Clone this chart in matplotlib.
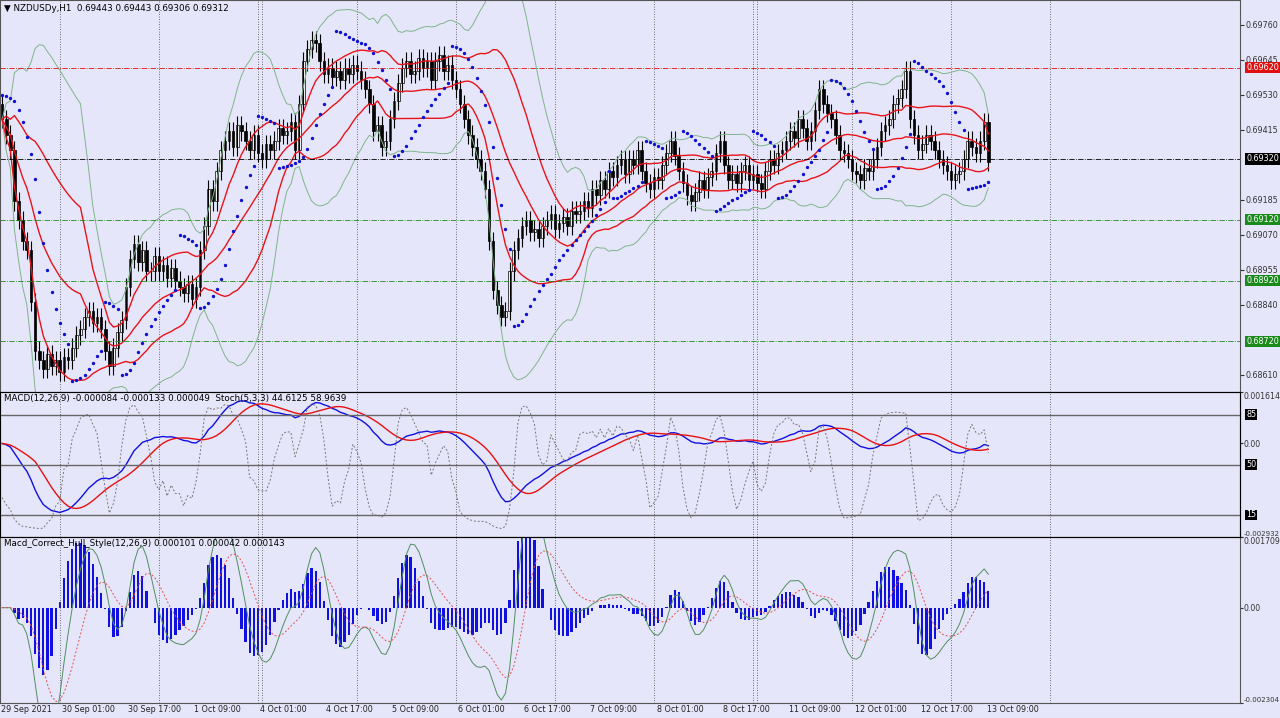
import numpy as np
import pandas as pd
import matplotlib
matplotlib.use("Agg")
import matplotlib.pyplot as plt

# closes in pips above 0.68000 (H1 candles)
closes_pips = [
    145, 140, 135, 118, 112, 105, 102, 85, 69, 66,
    63, 68, 64, 66, 62, 67, 66, 70, 74, 76,
    80, 82, 78, 80, 76, 69, 64, 70, 75, 79,
    90, 99, 104, 98, 102, 95, 95, 100, 95, 97,
    93, 96, 92, 90, 88, 91, 86, 90, 102, 110,
    122, 118, 128, 135, 138, 141, 136, 143, 141, 138,
    135, 140, 134, 132, 137, 135, 138, 142, 140, 141,
    144, 135, 150, 164, 168, 171, 170, 164, 160, 162,
    159, 161, 158, 162, 160, 163, 161, 158, 155, 150,
    141, 143, 136, 138, 145, 151, 157, 162, 164, 160,
    161, 165, 162, 164, 158, 164, 166, 161, 163, 158,
    155, 150, 145, 140, 136, 132, 128, 122, 105, 89,
    84, 80, 82, 95, 102, 106, 110, 112, 108, 109,
    106, 110, 112, 114, 109, 111, 113, 110, 115, 114,
    115, 118, 116, 122, 120, 125, 122, 128, 126, 130,
    132, 127, 132, 130, 135, 128, 124, 122, 126, 125,
    130, 134, 138, 133, 128, 124, 120, 118, 121, 125,
    122, 126, 128, 134, 138, 130, 125, 127, 124, 128,
    130, 125, 127, 124, 122, 128, 132, 130, 134, 135,
    138, 141, 139, 145, 142, 138, 141, 148, 155, 150,
    147, 145, 140, 135, 134, 132, 128, 127, 125, 129,
    128, 132, 136, 141, 143, 145, 150, 152, 155, 161,
    145, 140, 135, 137, 140, 138, 135, 132, 130, 128,
    125, 127, 128, 132, 138, 136, 134, 138, 144, 131,
]
first_open_pips = 150
wick_pips = 3

level_prices = [0.69620, 0.69320, 0.69120, 0.68920, 0.68720]
level_colors = ["#e01010", "black", "#1a8a1a", "#1a8a1a", "#1a8a1a"]
price_ticks = [0.69760, 0.69645, 0.69530, 0.69415, 0.69185, 0.69070, 0.68955, 0.68840, 0.68610]
time_labels = ["30 Sep 01:00", "30 Sep 17:00", "1 Oct 09:00", "4 Oct 01:00",
               "4 Oct 17:00", "5 Oct 09:00", "6 Oct 01:00", "6 Oct 17:00", "7 Oct 09:00",
               "8 Oct 01:00", "8 Oct 17:00", "11 Oct 09:00", "12 Oct 01:00", "12 Oct 17:00",
               "13 Oct 09:00"]
time_label_idx = [15, 31, 47, 63, 79, 95, 111, 127, 143, 159, 175, 191, 207, 223, 239]
day_sep_idx = [14, 38, 62, 63, 86, 110, 134, 158, 182, 183, 206, 230, 254]

close = np.array(closes_pips) * 1e-4 + 0.68
opens = np.concatenate([[first_open_pips * 1e-4 + 0.68], close[:-1]])
high = np.maximum(opens, close) + wick_pips * 1e-4
low = np.minimum(opens, close) - wick_pips * 1e-4
n = len(close)
idx = np.arange(n)
s = pd.Series(close)

# indicators
mid = s.rolling(20, min_periods=1).mean()
sd = s.rolling(20, min_periods=1).std().fillna(0)
red_up, red_lo = mid + 1.0 * sd, mid - 1.0 * sd
grn_up, grn_lo = mid + 2.2 * sd, mid - 2.2 * sd

def psar(h, l, step=0.02, mx=0.2):
    out = np.zeros(len(h))
    up = False
    af = step
    ep = l[0]
    sar = h[0]
    for i in range(len(h)):
        if up:
            if l[i] < sar:
                up, sar, ep, af = False, ep, l[i], step
            elif h[i] > ep:
                ep, af = h[i], min(af + step, mx)
        else:
            if h[i] > sar:
                up, sar, ep, af = True, ep, h[i], step
            elif l[i] < ep:
                ep, af = l[i], min(af + step, mx)
        out[i] = sar
        sar = sar + af * (ep - sar)
    return out

sar = psar(high, low)

ema = lambda x, p: x.ewm(span=p, adjust=False).mean()
macd = ema(s, 12) - ema(s, 26)
signal = macd.rolling(9, min_periods=1).mean()
hh = pd.Series(high).rolling(5, min_periods=1).max()
ll = pd.Series(low).rolling(5, min_periods=1).min()
stoch = 100 * (s - ll).rolling(3, min_periods=1).sum() / (hh - ll).rolling(3, min_periods=1).sum()

def wma(x, p):
    return x.rolling(p, min_periods=1).apply(
        lambda v: np.dot(v, np.arange(1, len(v) + 1)) / np.arange(1, len(v) + 1).sum(), raw=True)

def hma(x, p):
    return wma(2 * wma(x, p // 2) - wma(x, p), int(np.sqrt(p)))

hull = hma(s, 12) - hma(s, 26)
hull_sig = ema(hull, 9)
hist = hull - hull_sig

# figure
bg = "#e6e6fa"
W, H = 1280, 718
fig = plt.figure(figsize=(W / 100, H / 100), dpi=100, facecolor=bg)
aw = 1240 / W
ax = fig.add_axes([0, 1 - 392 / H, aw, 392 / H], facecolor=bg)
ax2 = fig.add_axes([0, 1 - 537 / H, aw, 145 / H], facecolor=bg)
ax3 = fig.add_axes([0, 1 - 703 / H, aw, 166 / H], facecolor=bg)
ax2b = ax2.twinx()
xlim = (-0.5, 300)
fs = 5.8

for a in (ax, ax2, ax3):
    a.set_xlim(*xlim)
    a.yaxis.tick_right()
    a.tick_params(axis="y", labelsize=fs, length=3, pad=1, colors="#333333")
    a.tick_params(axis="x", length=0, labelbottom=False)
    for sp in a.spines.values():
        sp.set_color("#555555")
    for d in day_sep_idx:
        a.axvline(d, color="#444444", lw=0.6, ls=(0, (1, 2)))
for a in (ax2, ax3):
    a.tick_params(axis="y", labelsize=5.6, pad=0.5, length=2)

# main price panel
for i in idx:
    bull = close[i] >= opens[i]
    ax.vlines(i, low[i], high[i], color="black", lw=0.8)
    b0, b1 = min(opens[i], close[i]), max(opens[i], close[i])
    ax.bar(i, max(b1 - b0, 0.000015), bottom=b0, width=0.65,
           color="white" if bull else "black", edgecolor="black", lw=0.5)
ax.plot(idx, grn_up, color="#7fb58a", lw=0.7)
ax.plot(idx, grn_lo, color="#7fb58a", lw=0.7)
for line in (red_up, mid, red_lo):
    ax.plot(idx, line, color="#e8141a", lw=1.0)
ax.scatter(idx, sar, s=2, color="#1010d0", zorder=3)
for p, c in zip(level_prices, level_colors):
    ax.axhline(p, color=c, lw=0.6, ls="-.")
    ax.text(1.005, p, f"{p:.5f}", transform=ax.get_yaxis_transform(), fontsize=fs,
            color="white", va="center", ha="left",
            bbox=dict(boxstyle="square,pad=0.15", fc=c, ec="none"))
ax.set_ylim(0.68554, 0.69842)
ax.set_yticks(price_ticks)
ax.set_yticklabels([f"{t:.5f}" for t in price_ticks])
ax.text(0.003, 0.99, "\u25bc NZDUSDy,H1  0.69443 0.69443 0.69306 0.69312", transform=ax.transAxes,
        fontsize=6.3, va="top", ha="left")

# MACD + Stoch panel
ax2b.set_ylim(-0.4, 101)
ax2b.plot(idx, stoch, color="#777777", lw=0.7, ls=(0, (2, 2)))
for lv in (85, 50, 15):
    ax2b.axhline(lv, color="#666666", lw=1.0)
    ax2b.text(1.005, lv, str(lv), transform=ax2b.get_yaxis_transform(), fontsize=fs,
              color="white", va="center", ha="left",
              bbox=dict(boxstyle="square,pad=0.12", fc="black", ec="none"))
ax2b.set_yticks([])
ax2b.set_xlim(*xlim)
ax2.plot(idx, macd, color="#1010e0", lw=1.0)
ax2.plot(idx, signal, color="#e81010", lw=1.0)
ax2.set_ylim(-0.002932, 0.001614)
ax2.set_yticks([0.001614, 0.0, -0.002932])
ax2.set_yticklabels(["0.001614", "0.00", "-0.002932"])
ax2.yaxis.tick_right()
ax2.text(0.003, 0.985, "MACD(12,26,9) -0.000084 -0.000133 0.000049  Stoch(5,3,3) 44.6125 58.9639",
         transform=ax2.transAxes, fontsize=6.3, va="top", ha="left")

# Hull style MACD panel
ax3.bar(idx, hist, width=0.55, color="#1010e0")
ax3.plot(idx, hull, color="#4f8f5f", lw=0.7)
ax3.plot(idx, hull_sig, color="#e05050", lw=0.7, ls=(0, (2, 2)))
ax3.set_ylim(-0.002304, 0.001709)
ax3.set_yticks([0.001709, 0.0, -0.002304])
ax3.set_yticklabels(["0.001709", "0.00", "-0.002304"])
ax3.text(0.003, 0.985, "Macd_Correct_Hull_Style(12,26,9) 0.000101 0.000042 0.000143",
         transform=ax3.transAxes, fontsize=6.3, va="top", ha="left")

# keep edge tick labels inside their panels
for a in (ax2, ax3):
    labs = a.get_yticklabels()
    labs[0].set_va("top")
    labs[-1].set_va("bottom")
    labs[-1].set_fontsize(5.0)

# time labels
fig.text(0.001, 1 - 710 / H, "29 Sep 2021", fontsize=fs, ha="left", va="center", color="#222222")
for lab, ti in zip(time_labels, time_label_idx):
    xf = aw * (ti - 0.4 - xlim[0]) / (xlim[1] - xlim[0])
    fig.text(xf, 1 - 710 / H, lab, fontsize=fs, ha="left", va="center", color="#222222")

fig.savefig("out.png", dpi=100, facecolor=bg)
